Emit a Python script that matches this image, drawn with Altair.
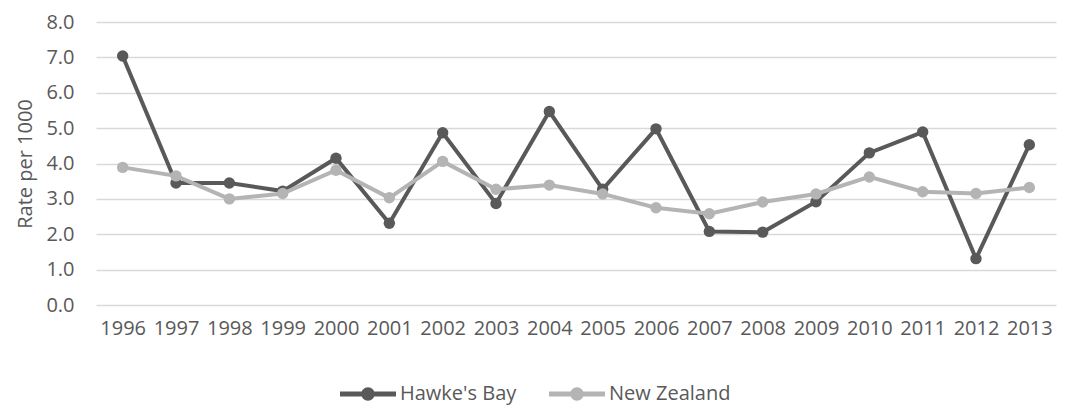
import altair as alt
import pandas as pd

years = [str(y) for y in range(1996, 2014)]
hawkes_bay = [7.04, 3.45, 3.45, 3.22, 4.15, 2.31, 4.87, 2.87, 5.47, 3.27, 4.98, 2.08, 2.06, 2.92, 4.30, 4.89, 1.31, 4.53]
new_zealand = [3.89, 3.65, 3.00, 3.15, 3.81, 3.03, 4.06, 3.27, 3.39, 3.14, 2.75, 2.58, 2.91, 3.14, 3.62, 3.20, 3.15, 3.32]
series = ["Hawke's Bay", "New Zealand"]
colors = ["#595959", "#b4b4b4"]
y_ticks = [0, 1, 2, 3, 4, 5, 6, 7, 8]

rows = []
for s, vals in zip(series, [hawkes_bay, new_zealand]):
    for yr, v in zip(years, vals):
        rows.append({"Year": yr, "Rate": v, "Series": s})
df = pd.DataFrame(rows)

FONT = "Open Sans"
TXT = "#595959"

legend_path = ("M-1,-0.09 L1,-0.09 L1,0.09 L-1,0.09 Z "
               "M-0.24,0 A0.24,0.24 0 1,1 0.24,0 A0.24,0.24 0 1,1 -0.24,0 Z")

legend = alt.Legend(title=None, orient="none", direction="horizontal",
                    legendX=244, legendY=344,
                    symbolType=legend_path, symbolSize=3136,
                    symbolStrokeWidth=0, symbolOpacity=1,
                    labelFont=FONT, labelFontSize=20, labelColor=TXT,
                    labelOffset=4, columnPadding=32)

x = alt.X("Year:O", sort=years,
          scale=alt.Scale(type="point", padding=0.5),
          axis=alt.Axis(title=None, labelAngle=0, labelFont=FONT, labelFontSize=20,
                        labelColor=TXT, domain=False, ticks=False, labelPadding=13,
                        grid=False))
y = alt.Y("Rate:Q", scale=alt.Scale(domain=[0, 8], nice=False),
          axis=alt.Axis(title="Rate per 1000", values=y_ticks, format=".1f",
                        labelFont=FONT, labelFontSize=20, labelColor=TXT,
                        titleFont=FONT, titleFontSize=20, titleColor=TXT,
                        titleFontWeight="normal", titlePadding=10,
                        domain=False, ticks=False, labelPadding=22,
                        grid=True, gridColor="#d9d9d9", gridWidth=1.5))
color_scale = alt.Scale(domain=series, range=colors)

lines = alt.Chart(df).mark_line(strokeWidth=4).encode(
    x=x, y=y,
    color=alt.Color("Series:N", scale=color_scale, legend=legend),
)
points = alt.Chart(df).mark_point(filled=True, size=130, opacity=1).encode(
    x=x, y=y,
    color=alt.Color("Series:N", scale=color_scale, legend=legend),
)

nz_lines = lines.transform_filter(alt.datum.Series == "New Zealand")
hb_lines = lines.transform_filter(alt.datum.Series == "Hawke's Bay")
nz_pts = points.transform_filter(alt.datum.Series == "New Zealand")
hb_pts = points.transform_filter(alt.datum.Series == "Hawke's Bay")

chart = alt.layer(hb_lines, hb_pts, nz_lines, nz_pts).properties(
    width=960, height=283,
    autosize=alt.AutoSizeParams(type="none"),
    padding={"left": 88, "top": 14, "right": 6, "bottom": 104},
).configure(background="white").configure_view(stroke=None)

chart.save("out.html", embed_options={"renderer": "svg", "actions": False})
